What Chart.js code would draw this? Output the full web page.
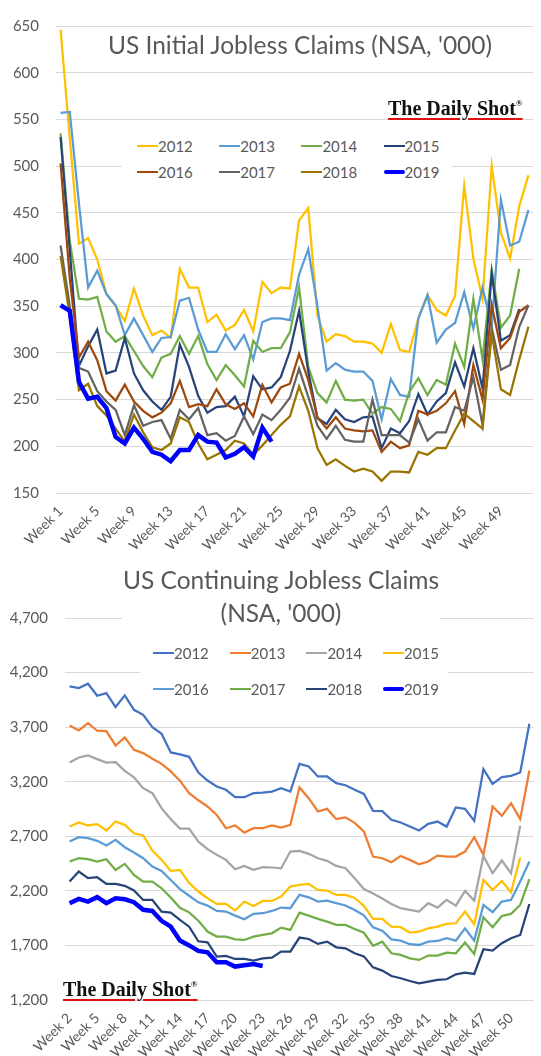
<!DOCTYPE html>
<html>
<head>
<meta charset="utf-8">
<script src="https://cdn.jsdelivr.net/npm/chart.js@4.4.1/dist/chart.umd.min.js"></script>
<style>
  body { margin: 0; background: #fff; font-family: Lato, sans-serif; }
  #page { position: relative; width: 541px; height: 1056px; overflow: hidden; background: #fff; }
  .wrap { position: absolute; left: 0; }
  .title { position: absolute; color: #595959; font-size: 24.5px; white-space: nowrap; line-height: 33px; text-align: center; }
  .whitebox { position: absolute; background: #fff; }
  .legend-item { position: absolute; height: 20px; line-height: 20px; font-size: 15px; color: #595959; display: flex; align-items: center; white-space: nowrap; }
  .swatch { display: inline-block; width: 21px; }
  .logo { position: absolute; font-family: 'Liberation Serif', serif; font-weight: bold; font-size: 20px; color: #111;
          white-space: nowrap; background: #fff; line-height: 22px;
          text-decoration: underline; text-decoration-color: #e01010; text-decoration-thickness: 1.5px; text-underline-offset: 3px; }
  .logo sup { font-size: 9px; text-decoration: none; vertical-align: 9px; }
</style>
</head>
<body>
<div id="page">
  <div class="wrap" style="top:0;width:541px;height:560px;"><canvas id="initialChart" width="541" height="560"></canvas></div>
  <div class="wrap" style="top:560px;width:541px;height:496px;"><canvas id="continuingChart" width="541" height="496"></canvas></div>

  <div class="title" style="left:80px;top:28px;width:440px;">US Initial Jobless Claims (NSA, '000)</div>
  <div class="logo" style="left:386px;top:92px;padding:0 2px;">The Daily Shot<sup>®</sup></div>
  <div class="whitebox" id="legendTop" style="left:122px;top:134px;width:330px;height:50px;"></div>

  <div class="whitebox" style="left:122px;top:562px;width:318px;height:66px;"></div>
  <div class="title" style="left:111px;top:563px;width:340px;">US Continuing Jobless Claims<br>(NSA, '000)</div>
  <div class="whitebox" id="legendBottom" style="left:140px;top:640px;width:308px;height:66px;"></div>
  <div class="logo" style="left:61px;top:973px;padding:0 2px;">The Daily Shot<sup>®</sup></div>
</div>

<script>
const years = ['2012', '2013', '2014', '2015', '2016', '2017', '2018', '2019'];
const initialColors = ['#FFC000', '#5B9BD5', '#70AD47', '#264478', '#9E480E', '#636363', '#997300', '#0000FF'];
const continuingColors = ['#4472C4', '#ED7D31', '#A5A5A5', '#FFC000', '#5B9BD5', '#70AD47', '#264478', '#0000FF'];

// weekly initial claims, week 1 .. week 52
const initialWeeks = Array.from({ length: 52 }, (_, i) => 'Week ' + (i + 1));
const initial2012 = [646, 530, 417, 423, 400, 363, 350, 334, 369, 340, 319, 324, 316, 390, 370, 370, 333, 341, 324, 330, 346, 323, 376, 364, 370, 369,
  442, 455, 340, 312, 320, 318, 312, 312, 310, 300, 331, 303, 301, 337, 362, 346, 340, 361, 479, 401, 358, 500, 429, 401, 457, 490];
const initial2013 = [557, 558, 460, 370, 388, 363, 351, 319, 337, 319, 301, 316, 317, 356, 359, 325, 301, 301, 320, 304, 319, 293, 333, 337, 337, 335,
  384, 411, 350, 281, 289, 282, 280, 280, 270, 229, 272, 255, 253, 337, 362, 311, 325, 332, 365, 326, 370, 328, 464, 415, 419, 453];
const initial2014 = [535, 420, 358, 357, 360, 323, 312, 318, 302, 286, 274, 295, 299, 318, 299, 318, 288, 271, 287, 276, 264, 313, 301, 305, 305, 322,
  370, 285, 257, 247, 270, 250, 249, 250, 235, 242, 240, 227, 258, 273, 255, 271, 266, 310, 285, 358, 293, 389, 327, 340, 390, null];
const initial2015 = [531, 410, 286, 307, 325, 278, 281, 316, 278, 260, 248, 239, 253, 309, 285, 254, 236, 242, 243, 253, 232, 275, 261, 263, 274, 302,
  345, 280, 230, 224, 239, 229, 226, 231, 232, 198, 219, 214, 227, 256, 234, 248, 257, 290, 264, 305, 262, 385, 313, 319, 347, null];
const initial2016 = [503, 380, 295, 312, 292, 259, 249, 266, 248, 238, 231, 236, 246, 270, 242, 245, 243, 261, 245, 240, 246, 232, 266, 247, 263, 267,
  299, 271, 231, 219, 231, 219, 217, 216, 217, 194, 205, 198, 201, 238, 234, 238, 246, 259, 224, 287, 250, 351, 305, 316, 344, 351];
const initial2017 = [415, 350, 284, 280, 259, 248, 239, 212, 244, 222, 226, 228, 208, 239, 229, 241, 212, 214, 206, 211, 232, 213, 234, 228, 239, 252,
  283, 253, 222, 208, 222, 207, 205, 205, 250, 212, 212, 212, 204, 229, 206, 215, 215, 242, 238, 274, 223, 327, 282, 287, 328, 351];
const initial2018 = [404, 340, 260, 267, 243, 233, 219, 205, 234, 215, 199, 196, 203, 231, 226, 203, 186, 191, 196, 206, 203, 191, 201, 212, 223, 232,
  264, 238, 198, 180, 186, 179, 173, 176, 173, 163, 173, 173, 172, 194, 191, 198, 198, 217, 235, 227, 219, 321, 261, 255, 293, 328];
const initial2019 = [351, 345, 269, 251, 253, 241, 210, 203, 220, 208, 194, 191, 184, 196, 196, 212, 205, 204, 188, 192, 199, 189, 220, 205];

// weekly continuing claims, week 2 .. week 52
const continuingWeeks = Array.from({ length: 51 }, (_, i) => 'Week ' + (i + 2));
const continuing2012 = [4073, 4058, 4098, 3988, 4012, 3884, 3991, 3859, 3813, 3700, 3639, 3468, 3450, 3428, 3284, 3211, 3156, 3126, 3058, 3058, 3095,
  3101, 3110, 3141, 3110, 3364, 3340, 3248, 3248, 3187, 3168, 3126, 3088, 2933, 2930, 2851, 2826, 2789, 2753, 2814, 2835, 2789, 2964, 2951, 2841,
  3315, 3181, 3242, 3254, 3285, 3731];
const continuing2013 = [3716, 3670, 3737, 3667, 3664, 3532, 3606, 3492, 3462, 3410, 3364, 3294, 3210, 3095, 3030, 2973, 2896, 2774, 2799, 2734, 2774,
  2774, 2799, 2780, 2805, 3147, 3049, 2927, 2951, 2857, 2873, 2823, 2744, 2514, 2499, 2462, 2520, 2484, 2444, 2469, 2523, 2514, 2514, 2560, 2692,
  2530, 2973, 2887, 3003, 2857, 3303];
const continuing2014 = [3376, 3422, 3441, 3407, 3376, 3379, 3300, 3239, 3141, 3095, 2958, 2857, 2770, 2770, 2650, 2582, 2530, 2484, 2398, 2429, 2392,
  2417, 2414, 2407, 2560, 2566, 2539, 2499, 2475, 2429, 2407, 2315, 2217, 2175, 2130, 2080, 2041, 2025, 2010, 2087, 2047, 2117, 2065, 2200, 2111,
  2520, 2362, 2478, 2362, 2796, null];
const continuing2015 = [2789, 2826, 2799, 2811, 2753, 2835, 2805, 2728, 2707, 2569, 2484, 2383, 2392, 2273, 2194, 2132, 2080, 2080, 2019, 2102, 2062,
  2108, 2108, 2148, 2239, 2255, 2264, 2209, 2203, 2163, 2163, 2135, 2063, 1943, 1943, 1873, 1867, 1818, 1827, 1857, 1873, 1897, 1903, 2010, 1894,
  2300, 2209, 2291, 2187, 2505, null];
const continuing2016 = [2652, 2692, 2683, 2658, 2615, 2667, 2600, 2551, 2499, 2423, 2383, 2300, 2216, 2155, 2095, 2065, 2016, 2010, 1973, 1940, 1989,
  1995, 2016, 2047, 2041, 2163, 2141, 2102, 2111, 2087, 2066, 2025, 1976, 1865, 1835, 1756, 1744, 1711, 1704, 1735, 1741, 1766, 1744, 1857, 1744,
  2071, 2004, 2102, 2117, 2285, 2469];
const continuing2017 = [2469, 2499, 2490, 2469, 2490, 2392, 2447, 2346, 2285, 2285, 2224, 2139, 2045, 2003, 1926, 1827, 1781, 1781, 1756, 1750, 1781,
  1796, 1811, 1863, 1842, 2001, 1973, 1943, 1918, 1888, 1888, 1850, 1816, 1697, 1735, 1628, 1613, 1582, 1567, 1607, 1607, 1634, 1628, 1726, 1622,
  1958, 1867, 1970, 1989, 2071, 2307];
const continuing2018 = [2285, 2377, 2316, 2325, 2264, 2264, 2246, 2203, 2117, 2117, 2010, 2001, 1934, 1872, 1738, 1729, 1597, 1604, 1576, 1576, 1561,
  1582, 1588, 1643, 1643, 1772, 1759, 1714, 1735, 1683, 1674, 1628, 1600, 1499, 1469, 1420, 1399, 1374, 1353, 1368, 1384, 1390, 1435, 1451, 1439,
  1665, 1652, 1720, 1766, 1796, 2080];
const continuing2019 = [2087, 2126, 2102, 2142, 2087, 2132, 2123, 2096, 2026, 2016, 1925, 1872, 1745, 1700, 1650, 1637, 1546, 1546, 1506, 1518, 1530, 1512];

const initialSeries = [initial2012, initial2013, initial2014, initial2015, initial2016, initial2017, initial2018, initial2019];
const continuingSeries = [continuing2012, continuing2013, continuing2014, continuing2015, continuing2016, continuing2017, continuing2018, continuing2019];

const tickColor = '#595959';
const gridColor = '#D9D9D9';

function makeDatasets(series, colors) {
  return series.map((data, i) => ({
    label: years[i],
    data: data,
    borderColor: colors[i],
    backgroundColor: colors[i],
    borderWidth: years[i] === '2019' ? 4.5 : 2.25,
    pointRadius: 0,
    tension: 0,
    order: series.length - i, // later years on top
  }));
}

function makeChart(canvas, labels, series, colors, opts) {
  return new Chart(canvas, {
    type: 'line',
    data: { labels: labels, datasets: makeDatasets(series, colors) },
    options: {
      responsive: false,
      animation: false,
      events: [],
      layout: { padding: { top: opts.padTop, right: opts.padRight, left: 0, bottom: 0 } },
      plugins: { legend: { display: false }, tooltip: { enabled: false } },
      scales: {
        x: {
          offset: true,
          grid: { display: false },
          border: { display: false },
          afterFit: (scale) => { scale.height = opts.xHeight; },
          ticks: {
            autoSkip: false,
            minRotation: 45,
            maxRotation: 45,
            padding: 2,
            color: tickColor,
            font: { family: 'Lato', size: 14 },
            callback: function (value, index) {
              return index % opts.every === 0 ? this.getLabelForValue(value) : null;
            },
          },
        },
        y: {
          min: opts.min,
          max: opts.max,
          grid: { color: gridColor, lineWidth: 1, drawTicks: false },
          border: { display: false },
          afterFit: (scale) => { scale.width = opts.yWidth; },
          ticks: {
            stepSize: opts.step,
            padding: 17,
            color: tickColor,
            font: { family: 'Lato', size: 15 },
            callback: (v) => v.toLocaleString('en-US'),
          },
        },
      },
    },
  });
}

makeChart(document.getElementById('initialChart'), initialWeeks, initialSeries, initialColors,
  { min: 150, max: 650, step: 50, every: 4, padTop: 13, padRight: 8, xHeight: 67, yWidth: 56 });
makeChart(document.getElementById('continuingChart'), continuingWeeks, continuingSeries, continuingColors,
  { min: 1200, max: 4700, step: 500, every: 3, padTop: 58, padRight: 7, xHeight: 56, yWidth: 65 });

// legends (4 columns x 2 rows) built from the series names and colours
function buildLegend(colors, x0, dx, rowsY) {
  const page = document.getElementById('page');
  years.forEach((y, i) => {
    const item = document.createElement('div');
    item.className = 'legend-item';
    item.style.left = (x0 + (i % 4) * dx) + 'px';
    item.style.top = (rowsY[Math.floor(i / 4)] - 10) + 'px';
    const sw = document.createElement('span');
    sw.className = 'swatch';
    sw.style.height = (y === '2019' ? 4.5 : 2) + 'px';
    sw.style.borderRadius = y === '2019' ? '2px' : '0';
    sw.style.background = colors[i];
    item.appendChild(sw);
    item.appendChild(document.createTextNode(y));
    page.appendChild(item);
  });
}
buildLegend(initialColors, 137, 82.2, [146, 172]);
buildLegend(continuingColors, 153, 76.7, [653, 689]);
</script>
</body>
</html>
